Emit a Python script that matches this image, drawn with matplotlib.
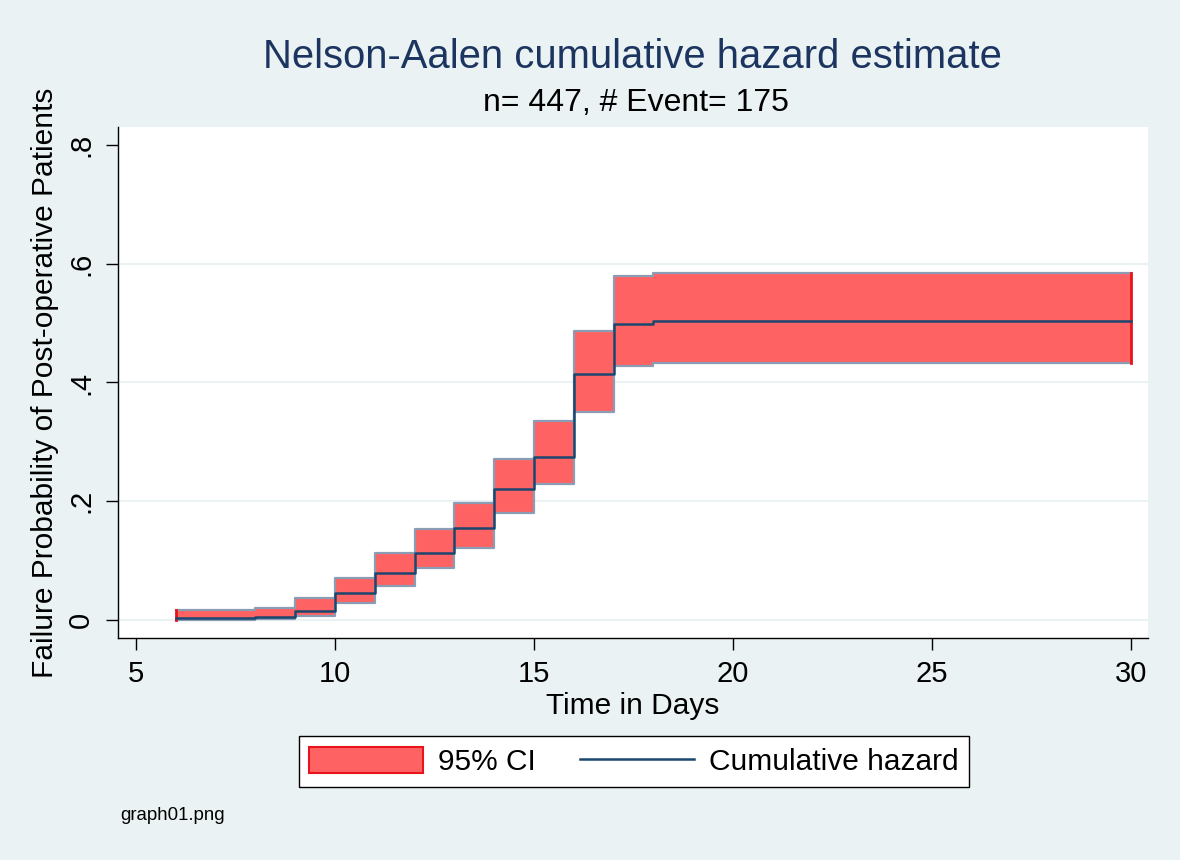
import matplotlib
matplotlib.use("Agg")
import matplotlib.pyplot as plt
from matplotlib.patches import Patch
from matplotlib.lines import Line2D

plt.rcParams['font.family'] = ['Liberation Sans', 'DejaVu Sans']

# Step start times (days) and values (step held until next time)
times = [6, 8, 9, 10, 11, 12, 13, 14, 15, 16, 17, 18, 30]
hazard = [0.004, 0.005, 0.015, 0.045, 0.079, 0.113, 0.155, 0.221, 0.275, 0.414, 0.498, 0.503, 0.503]
ci_upper = [0.017, 0.020, 0.037, 0.070, 0.113, 0.153, 0.197, 0.271, 0.335, 0.487, 0.579, 0.584, 0.584]
ci_lower = [0.000, 0.002, 0.007, 0.029, 0.057, 0.088, 0.121, 0.180, 0.229, 0.350, 0.428, 0.433, 0.433]

x_ticks = [5, 10, 15, 20, 25, 30]
y_ticks = [0, 0.2, 0.4, 0.6, 0.8]
y_tick_labels = ['0', '.2', '.4', '.6', '.8']

BG = '#EAF2F3'
NAVY = '#1A476F'
TITLE = '#1C3560'
FILL = '#FF6262'
EDGE = '#8A9DB5'

fig = plt.figure(figsize=(11.8, 8.6), dpi=100, facecolor=BG)
ax = fig.add_axes([0.1, 0.2581, 0.8729, 0.5942])
ax.set_facecolor('white')

for yv in y_ticks[:-1]:
    ax.axhline(yv, color=BG, lw=1.5, zorder=0.5)

ax.fill_between(times, ci_lower, ci_upper, step='post', facecolor=FILL,
                edgecolor='none', zorder=2)
ax.step(times, ci_upper, where='post', color=EDGE, lw=1.6, zorder=2.5)
ax.step(times, ci_lower, where='post', color=EDGE, lw=1.6, zorder=2.5)
# red end edges
ax.plot([times[0], times[0]], [ci_lower[0], ci_upper[0]], color='#E8141C', lw=2, zorder=3)
ax.plot([times[-1], times[-1]], [ci_lower[-1], ci_upper[-1]], color='#E8141C', lw=2, zorder=3)
ax.step(times, hazard, where='post', color=NAVY, lw=1.8, zorder=4)

ax.set_xlim(4.55, 30.43)
ax.set_ylim(-0.0303, 0.830)
ax.set_xticks(x_ticks)
ax.set_yticks(y_ticks)
ax.set_yticklabels(y_tick_labels, rotation=90, va='center')
ax.tick_params(axis='both', labelsize=21, length=8.5, width=1, color='black')
ax.tick_params(axis='x', pad=7)
ax.tick_params(axis='y', pad=8)
for s in ['top', 'right']:
    ax.spines[s].set_visible(False)
for s in ['left', 'bottom']:
    ax.spines[s].set_color('black')
    ax.spines[s].set_linewidth(1)

ax.set_xlabel('Time in Days', fontsize=21.5, labelpad=3)
ax.set_ylabel('Failure Probability of Post-operative Patients', fontsize=21.5, labelpad=6)

fig.text(0.536, 0.934, 'Nelson-Aalen cumulative hazard estimate', ha='center', va='center',
         fontsize=28.8, color=TITLE)
fig.text(0.539, 0.880, 'n= 447, # Event= 175', ha='center', va='center', fontsize=23, color='black')

handles = [Patch(facecolor=FILL, edgecolor='#E8141C', lw=1.5),
           Line2D([0], [0], color=NAVY, lw=1.8)]
leg = fig.legend(handles, ['95% CI', 'Cumulative hazard'], loc='center',
                 bbox_to_anchor=(0.537, 0.1145), ncol=2, fontsize=21.5, frameon=True,
                 fancybox=False, edgecolor='black', facecolor='white', framealpha=1,
                 handlelength=3.8, handleheight=1.0, columnspacing=1.5, handletextpad=0.5,
                 borderpad=0.35)
leg.get_frame().set_linewidth(1)

fig.text(0.102, 0.052, 'graph01.png', ha='left', va='center', fontsize=13.4)

fig.savefig('out.png', dpi=100, facecolor=BG)
